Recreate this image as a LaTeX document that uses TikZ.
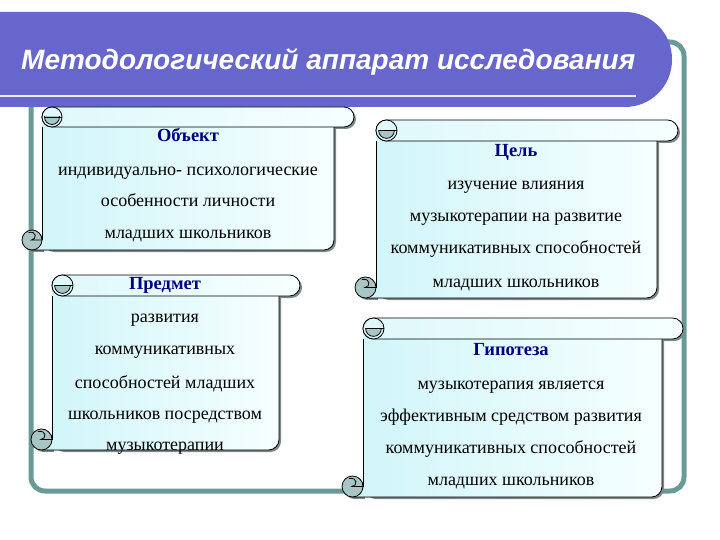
\documentclass[tikz,border=0pt]{standalone}
\usepackage{fontspec}
\setmainfont{Liberation Serif}
\newfontfamily\titlefont{Liberation Sans}
\definecolor{frameC}{RGB}{106,154,151}
\definecolor{bannerC}{RGB}{102,102,204}
\definecolor{lineC}{RGB}{236,236,252}
\definecolor{headC}{RGB}{0,0,128}
\definecolor{curlC}{RGB}{168,198,198}
\definecolor{shadC}{RGB}{125,138,138}
\definecolor{fillL}{RGB}{208,245,249}
\definecolor{fillR}{RGB}{246,255,255}
\newcommand{\myscroll}[5]{%
  \pgfmathsetmacro\sL{#1}\pgfmathsetmacro\sT{#2}\pgfmathsetmacro\sR{#3}%
  \pgfmathsetmacro\sB{#4}\pgfmathsetmacro\sc{#5}\pgfmathsetmacro\sr{#5/2}%
  \pgfmathsetmacro\sLc{#1+#5}\pgfmathsetmacro\sLr{#1+#5/2}%
  \pgfmathsetmacro\sRc{#3-#5}\pgfmathsetmacro\sRr{#3-1.5*#5}%
  \pgfmathsetmacro\sTc{#2+#5}\pgfmathsetmacro\sTr{#2+#5/2}%
  \pgfmathsetmacro\sBr{#4-#5/2}\pgfmathsetmacro\sLcr{#1+1.5*#5}%
  % shadow
  \begin{scope}[shift={(2,2)}]
    \fill[shadC, rounded corners=\sr pt] (\sLc,\sTr) rectangle (\sRc,\sB);
    \fill[shadC] (\sLr,\sBr) rectangle (\sLc,\sB);
    \fill[shadC, rounded corners=\sr pt] (\sLc,\sT) rectangle (\sR,\sTc);
    \fill[shadC] (\sLr,\sBr) circle[radius=\sr];
  \end{scope}
  % body
  \fill[left color=fillL, right color=fillR]
    (\sLc,\sTr) -- (\sLc,\sBr) -- (\sLr,\sBr) -- (\sLr,\sB) -- (\sRr,\sB)
    .. controls ({\sRc-0.448*\sr},\sB) and (\sRc,{\sB-0.448*\sr}) .. (\sRc,\sBr)
    -- (\sRc,\sTr) -- cycle;
  \draw[scrollline] (\sLc,\sTc) -- (\sLc,\sBr);
  \draw[scrollline] (\sLr,\sB) -- (\sRr,\sB)
    .. controls ({\sRc-0.448*\sr},\sB) and (\sRc,{\sB-0.448*\sr}) .. (\sRc,\sBr)
    -- (\sRc,\sTc);
  % top roll
  \draw[scrollline, left color=fillL!70!white, right color=fillR, rounded corners=\sr pt]
    (\sLc,\sT) rectangle (\sR,\sTc);
  \fill[fillL!70!white] (\sLcr,\sTr) circle[radius=\sr];
  \begin{scope}
    \clip (\sL,\sTr) rectangle (\sR,{\sTc+1});
    \draw[scrollline, fill=curlC] (\sLcr,\sTr) circle[radius={0.75*\sr}];
  \end{scope}
  \draw[scrollline] (\sLcr,\sTr) circle[radius=\sr];
  \draw[scrollline] ({\sLcr-0.75*\sr},\sTr) -- ({\sLcr+\sr},\sTr);
  % bottom curl
  \draw[scrollline, fill=curlC] (\sLr,\sBr) circle[radius=\sr];
  \draw[scrollline] ({\sLr-0.35*\sr},{\sBr-0.75*\sr})
    .. controls ({\sLr+0.5*\sr},{\sBr-0.95*\sr}) and ({\sLr+0.5*\sr},{\sBr-0.05*\sr}) .. ({\sLr-0.05*\sr},\sBr)
    -- (\sLc,\sBr);
}
\tikzset{
  scrollline/.style={draw=black, line width=0.8pt},
  head/.style={anchor=base, text=headC, font=\fontsize{18.5}{20}\selectfont\bfseries, inner sep=0pt},
  body/.style={anchor=base, text=black, font=\fontsize{18}{20}\selectfont, inner sep=0pt},
}
\begin{document}
\begin{tikzpicture}[x=1pt,y=-1pt]
\useasboundingbox (0,0) rectangle (720,540);
\fill[white] (0,0) rectangle (720,540);
\clip (0,0) rectangle (720,540);
% frame
\draw[frameC, line width=5pt, rounded corners=14pt] (31,42) rectangle (684,491);
% banner
\fill[bannerC, rounded corners=47pt] (-80,12) rectangle (672,107);
\draw[lineC, line width=2.5pt] (-5,96) -- (636,96);
\node[anchor=base west, inner sep=0pt, text=white,
      font=\titlefont\bfseries\itshape\fontsize{28}{30}\selectfont] (title) at (21,70)
  {Методологический аппарат исследования};
% scrolls
\myscroll{22}{107}{354}{250}{20}
\myscroll{355}{120}{678}{298}{21}
\myscroll{31}{275}{300}{450}{21}
\myscroll{342}{318}{683}{497}{21}
% texts scroll 1
\node[head] (h1) at (188,142) {Объект};
\node[body] (a1) at (188,175.5) {индивидуально- психологические};
\node[body] (a2) at (188,207) {особенности личности};
\node[body] (a3) at (188,238.5) {младших школьников};
% scroll 2
\node[head] (h2) at (516,157) {Цель};
\node[body] (b1) at (516,190) {изучение влияния};
\node[body] (b2) at (516,222) {музыкотерапии на развитие};
\node[body] (b3) at (516,254) {коммуникативных способностей};
\node[body] (b4) at (516,287) {младших школьников};
% scroll 3
\node[head] (h3) at (165,289) {Предмет};
\node[body] (c1) at (165,322) {развития};
\node[body] (c2) at (165,354) {коммуникативных};
\node[body] (c3) at (165,388) {способностей младших};
\node[body] (c4) at (165,419) {школьников посредством};
\node[body] (c5) at (165,450) {музыкотерапии};
% scroll 4
\node[head] (h4) at (511,355) {Гипотеза};
\node[body] (d1) at (511,389) {музыкотерапия является};
\node[body] (d2) at (511,421) {эффективным средством развития};
\node[body] (d3) at (511,453) {коммуникативных способностей};
\node[body] (d4) at (511,485) {младших школьников};
\end{tikzpicture}
\end{document}
